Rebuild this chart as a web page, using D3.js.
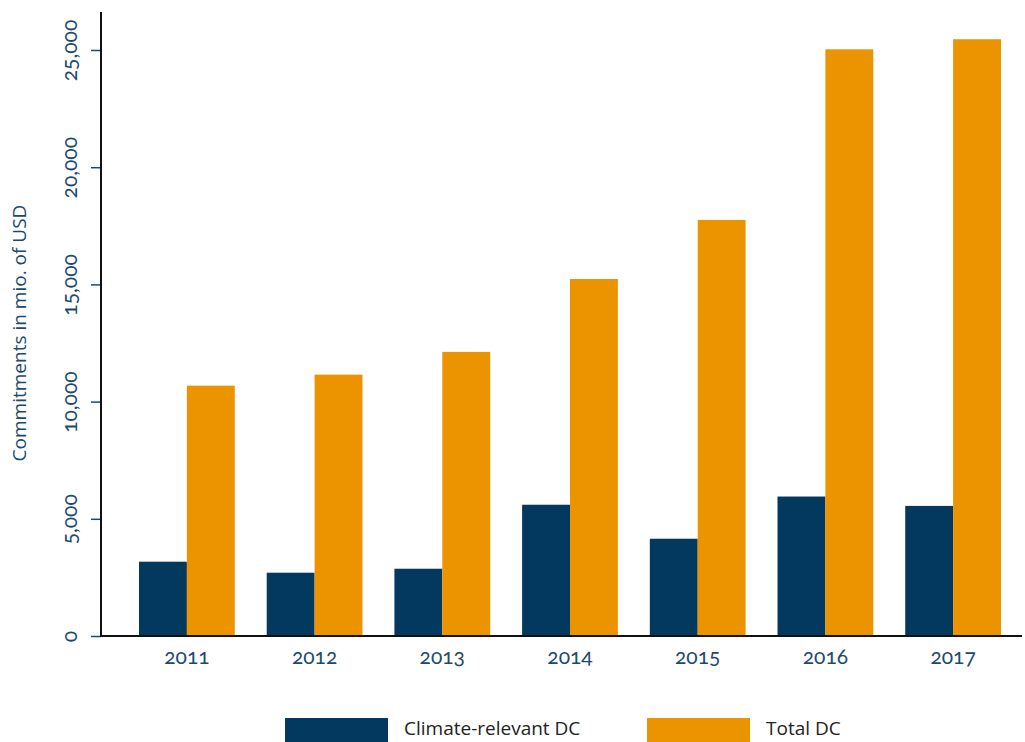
<!DOCTYPE html>
<html>
<head>
<meta charset="utf-8">
<script src="https://cdn.jsdelivr.net/npm/d3@7"></script>
<style>
  body { margin: 0; background: #fff; }
  svg text { font-family: "Open Sans", "Noto Sans", sans-serif; }
  .tick-label { font-family: Lato, "Open Sans", sans-serif; font-variant-numeric: oldstyle-nums; }
</style>
</head>
<body>
<div id="chart"></div>
<script>
const years = ["2011", "2012", "2013", "2014", "2015", "2016", "2017"];
const climateDC = [3170, 2700, 2870, 5600, 4150, 5950, 5550];
const totalDC = [10680, 11150, 12120, 15230, 17750, 25030, 25460];
const seriesNames = ["Climate-relevant DC", "Total DC"];
const yTicks = [0, 5000, 10000, 15000, 20000, 25000];

const w = 1025;
const h = 742;
const blue = "#03395e";
const orange = "#ec9400";
const textBlue = "#1b4a6f";

const plotLeft = 101;
const plotRight = 1022;
const plotTop = 12;
const plotBottom = 636;

const svg = d3
  .select("#chart")
  .append("svg")
  .attr("width", w)
  .attr("height", h);

const xScale = d3
  .scaleBand()
  .domain(years)
  .range([plotLeft, plotRight])
  .paddingInner(0.25)
  .paddingOuter(0.231)
  .align(0.644);

const xInner = d3
  .scaleBand()
  .domain(seriesNames)
  .range([0, xScale.bandwidth()]);

const yScale = d3
  .scaleLinear()
  .domain([0, 25000])
  .range([plotBottom, 50]);

const color = d3.scaleOrdinal().domain(seriesNames).range([blue, orange]);

const rows = years.map((y, i) => ({
  year: y,
  values: [
    { key: seriesNames[0], value: climateDC[i] },
    { key: seriesNames[1], value: totalDC[i] },
  ],
}));

svg
  .append("g")
  .selectAll("g")
  .data(rows)
  .enter()
  .append("g")
  .attr("transform", (d) => "translate(" + xScale(d.year) + ",0)")
  .selectAll("rect")
  .data((d) => d.values)
  .enter()
  .append("rect")
  .attr("x", (d) => xInner(d.key))
  .attr("y", (d) => yScale(d.value))
  .attr("width", xInner.bandwidth())
  .attr("height", (d) => plotBottom - yScale(d.value))
  .attr("fill", (d) => color(d.key));

// y axis
const yAxis = d3
  .axisLeft(yScale)
  .tickValues(yTicks)
  .tickSize(10)
  .tickFormat(d3.format(","));

const gy = svg
  .append("g")
  .attr("transform", "translate(" + plotLeft + ",0)")
  .call(yAxis);

gy.select(".domain").remove();
gy.selectAll(".tick line").attr("stroke", textBlue).attr("stroke-width", 1.5);
gy.selectAll(".tick text")
  .attr("class", "tick-label")
  .attr("fill", textBlue)
  .attr("font-size", 21)
  .attr("x", 0)
  .attr("dy", 0)
  .attr("text-anchor", "middle")
  .attr("dominant-baseline", "middle")
  .attr("transform", "translate(-29,0) rotate(-90)");

svg
  .append("line")
  .attr("x1", plotLeft)
  .attr("x2", plotLeft)
  .attr("y1", plotTop)
  .attr("y2", plotBottom + 1)
  .attr("stroke", "#111")
  .attr("stroke-width", 2);

// x axis
const xAxis = d3.axisBottom(xScale).tickSize(0).tickPadding(13);
const gx = svg
  .append("g")
  .attr("transform", "translate(0," + plotBottom + ")")
  .call(xAxis);

gx.select(".domain").remove();
gx.selectAll(".tick text")
  .attr("class", "tick-label")
  .attr("fill", textBlue)
  .attr("font-size", 21);

svg
  .append("line")
  .attr("x1", plotLeft)
  .attr("x2", plotRight)
  .attr("y1", plotBottom)
  .attr("y2", plotBottom)
  .attr("stroke", "#111")
  .attr("stroke-width", 2);

// y label
svg
  .append("text")
  .attr("transform", "translate(26,333) rotate(-90)")
  .attr("text-anchor", "middle")
  .attr("fill", textBlue)
  .attr("font-size", 19)
  .text("Commitments in mio. of USD");

// legend
const legendX = [285, 647];
const legend = svg
  .append("g")
  .selectAll("g")
  .data(seriesNames)
  .enter()
  .append("g")
  .attr("transform", (d, i) => "translate(" + legendX[i] + ",718)");

legend
  .append("rect")
  .attr("width", 103)
  .attr("height", 24)
  .attr("fill", (d) => color(d));

legend
  .append("text")
  .attr("x", 119)
  .attr("y", 12)
  .attr("dominant-baseline", "middle")
  .attr("font-size", 19)
  .attr("fill", "#222")
  .text((d) => d);
</script>
</body>
</html>
